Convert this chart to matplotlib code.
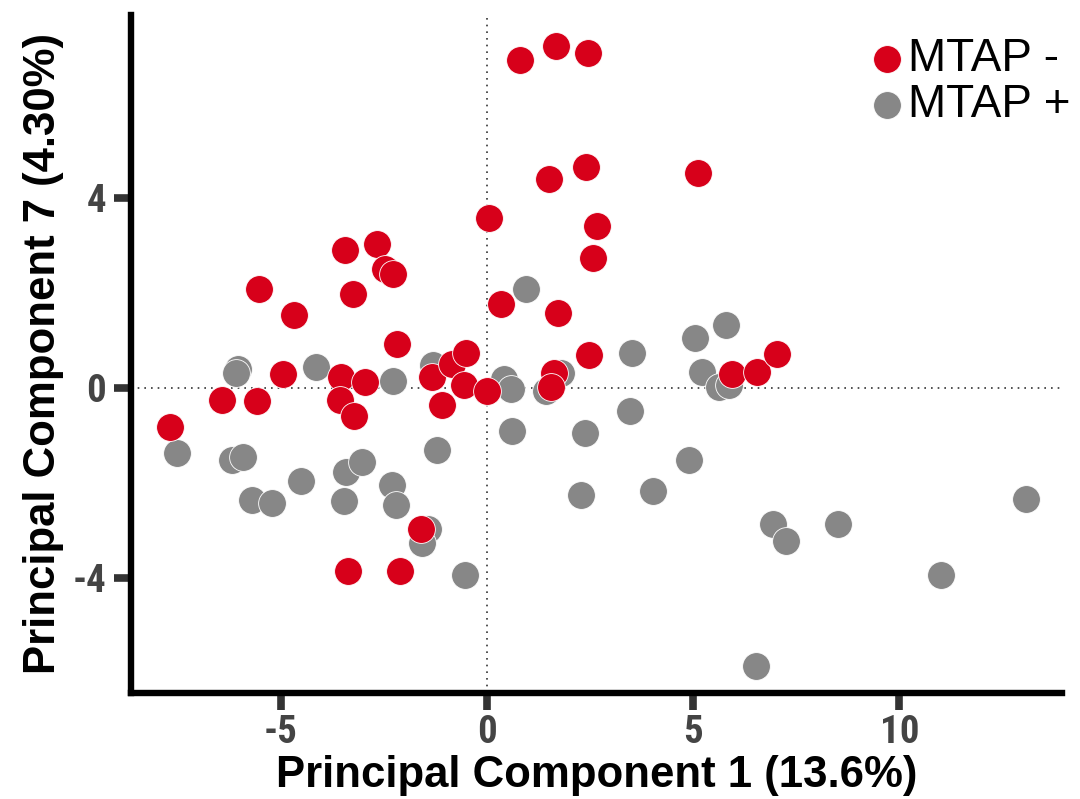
import matplotlib
matplotlib.use("Agg")
import matplotlib.pyplot as plt

plt.rcParams["axes.unicode_minus"] = False

# PCA scores
neg_x = [-7.67, -6.41, -5.58, -5.53, -4.93, -4.68, -3.45, -3.25, -3.54, -3.57,
         -3.23, -2.96, -2.67, -2.46, -2.28, -2.18, -1.33, -1.09, -0.85, -0.51,
         -0.56, 0.00, 0.05, 0.34, 0.80, 1.67, 2.45, 1.50, 2.40, 5.12,
         2.67, 2.57, 1.72, 2.48, 1.63, 1.55, 5.95, 6.55, 7.04, -1.60,
         -3.37, -2.11]
neg_y = [-0.83, -0.25, -0.27, 2.07, 0.28, 1.52, 2.90, 1.97, 0.23, -0.25,
         -0.60, 0.13, 3.03, 2.50, 2.39, 0.93, 0.23, -0.36, 0.49, 0.72,
         0.06, -0.08, 3.58, 1.76, 6.90, 7.20, 7.05, 4.40, 4.64, 4.51,
         3.41, 2.74, 1.57, 0.68, 0.30, 0.02, 0.28, 0.34, 0.70, -2.98,
         -3.85, -3.85]

pos_x = [-6.02, -6.09, -4.13, -2.28, -1.31, 0.41, 0.58, 0.95, 1.80, 1.43,
         3.52, 5.05, 5.80, 5.22, 5.63, 5.87, 0.61, 2.38, 3.47, 4.90,
         2.28, 4.03, 6.94, 7.26, 8.50, 11.00, 13.06, 6.53, -7.52, -6.17,
         -5.92, -5.70, -5.22, -4.51, -3.42, -3.03, -3.47, -2.31, -2.21, -1.21,
         -1.43, -1.58, -0.53]
pos_y = [0.40, 0.30, 0.44, 0.15, 0.47, 0.19, -0.02, 2.07, 0.30, -0.08,
         0.72, 1.04, 1.31, 0.32, 0.02, 0.06, -0.91, -0.95, -0.49, -1.52,
         -2.26, -2.18, -2.86, -3.22, -2.86, -3.94, -2.35, -5.86, -1.38, -1.52,
         -1.46, -2.37, -2.43, -1.97, -1.78, -1.57, -2.39, -2.05, -2.48, -1.31,
         -2.98, -3.26, -3.94]

labels = ["MTAP -", "MTAP +"]

narrow = ["Roboto Condensed", "DejaVu Sans"]
arial = ["Liberation Sans", "DejaVu Sans"]

fig = plt.figure(figsize=(10.8, 7.99), dpi=100)
ax = fig.add_axes([0.1215, 0.1325, 0.8615, 0.849])

ax.axvline(0, color="#333333", lw=1.2, ls=(0, (1, 3)), zorder=1)
ax.axhline(0, color="#333333", lw=1.2, ls=(0, (1, 3)), zorder=1)

ax.scatter(pos_x, pos_y, s=400, color="#878787", edgecolor="white", linewidth=0.6, label=labels[1], zorder=2)
ax.scatter(neg_x, neg_y, s=400, color="#d7001a", edgecolor="white", linewidth=0.6, label=labels[0], zorder=3)

ax.set_xlim(-8.62, 13.93)
ax.set_ylim(-6.43, 7.85)
ax.set_xticks([-5, 0, 5, 10])
ax.set_yticks([-4, 0, 4])

for s in ["top", "right"]:
    ax.spines[s].set_visible(False)
for s in ["left", "bottom"]:
    ax.spines[s].set_linewidth(4.6)
    ax.spines[s].set_color("black")
    ax.spines[s].set_capstyle("projecting")

ax.tick_params(length=12, width=5.5, color="#333333", labelcolor="#444444")
ax.tick_params(axis="x", pad=3)
ax.tick_params(axis="y", pad=6)
for lab in ax.get_xticklabels() + ax.get_yticklabels():
    lab.set_family(narrow)
    lab.set_fontweight("bold")
    lab.set_fontsize(28)

ax.set_xlabel("Principal Component 1 (13.6%)", family=arial, fontweight="bold", fontsize=31.5, labelpad=3)
ax.set_ylabel("Principal Component 7 (4.30%)", family=arial, fontweight="bold", fontsize=31.5, labelpad=6)

h, l = ax.get_legend_handles_labels()
leg = ax.legend(h[::-1], l[::-1], loc="upper left", bbox_to_anchor=(869 / 1080, 1 - 37 / 799),
                bbox_transform=fig.transFigure, frameon=False,
                handlelength=0.8, handletextpad=0.04, labelspacing=0.05, borderpad=0, borderaxespad=0,
                prop={"family": arial, "size": 33})

fig.savefig("out.png", dpi=100)
